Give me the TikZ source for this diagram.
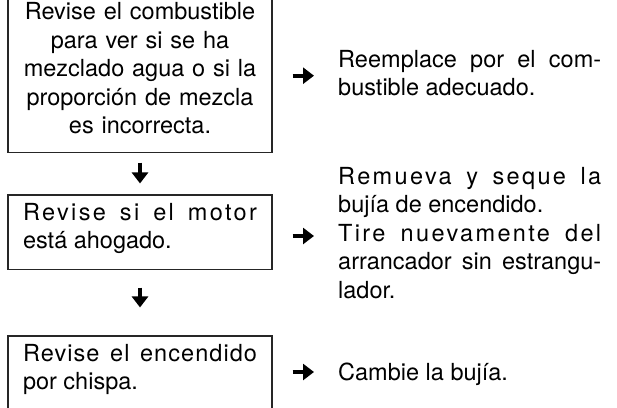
\documentclass[tikz,border=0pt]{standalone}
\usepackage{fontspec}
\setmainfont{TeX Gyre Heros}
\usetikzlibrary{arrows.meta}
\begin{document}
\begin{tikzpicture}[x=1pt,y=1pt,>={Triangle[length=11pt,width=16pt]},
    every node/.style={font=\fontsize{23.5}{28.5}\selectfont},
    caja/.style={draw=black!85,line width=1.1pt,text width=234pt,inner xsep=15pt,inner ysep=8.5pt,text height=16.5pt,anchor=base},
    texto/.style={text width=263pt,inner sep=0pt,align=justify,anchor=base west},
    flecha/.style={->,line width=4.4pt}]
            \useasboundingbox (0,0) rectangle (617,-407);
            \clip (0,0) rectangle (617,-407);
            \node[caja,align=center,text depth=124.5pt] (c1) at (140,-19.5) {Revise el combustible\\ para ver si se ha\\ mezclado agua o si la\\ proporción de mezcla\\ es incorrecta.};
            \node[caja,align=justify,text depth=41pt] (c2) at (140,-220) {{\addfontfeature{LetterSpace=10}Revise si el motor}\linebreak está ahogado.};
            \node[caja,align=justify,text depth=41pt] (c3) at (140,-361) {{\addfontfeature{LetterSpace=4.5}Revise el encendido}\linebreak por chispa.};
            \node[texto] (t1) at (338,-67) {Reemplace por el com-\linebreak bustible adecuado.};
            \node[texto] (t2) at (338,-184) {{\addfontfeature{LetterSpace=10}Remueva y seque la}\linebreak bujía de encendido.\\ {\addfontfeature{LetterSpace=10}Tire nuevamente del}\linebreak arrancador sin estrangu-\linebreak lador.};
            \node[texto] (t3) at (338,-380) {Cambie la bujía.};
            \coordinate (p1) at ([yshift=-8.7pt]t1.base west);
            \coordinate (p2) at ([yshift=-52pt]t2.base west);
            \coordinate (p3) at ([yshift=8pt]t3.base west);
            \draw[flecha,shorten <=9.5pt,shorten >=11pt] (c1.south) -- (c2.north);
            \draw[flecha,shorten <=17.5pt,shorten >=28pt] (c2.south) -- (c3.north);
            \draw[flecha,shorten <=20pt,shorten >=24pt] (c1.east |- p1) -- (p1);
            \draw[flecha,shorten <=20pt,shorten >=24pt] (c2.east |- p2) -- (p2);
            \draw[flecha,shorten <=20pt,shorten >=24pt] (c3.east |- p3) -- (p3);
        \end{tikzpicture}
\end{document}
